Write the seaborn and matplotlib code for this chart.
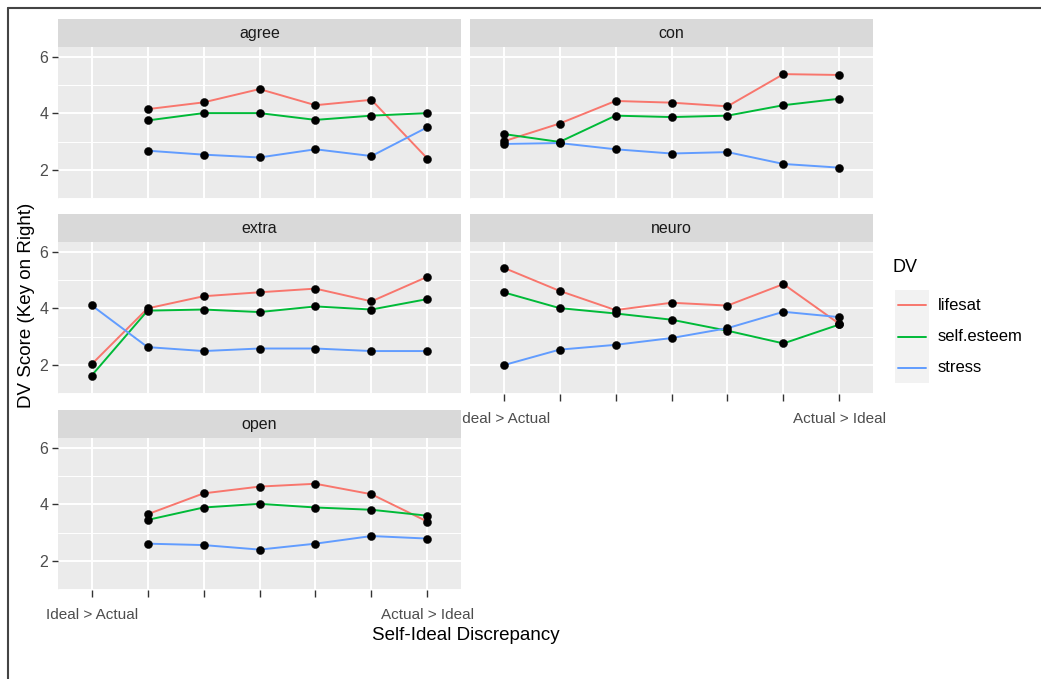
import numpy as np
import pandas as pd
import matplotlib.pyplot as plt
import seaborn as sns
from matplotlib.patches import Rectangle
from matplotlib.lines import Line2D

# ---- data ----
traits = ['agree', 'con', 'extra', 'neuro', 'open']
dvs = ['lifesat', 'self.esteem', 'stress']
positions = [1, 2, 3, 4, 5, 6, 7]
x_labels = ['Ideal > Actual', '', '', '', '', '', 'Actual > Ideal']
y_ticks = [2, 4, 6]

agree_lifesat = [np.nan, 4.15, 4.39, 4.86, 4.29, 4.48, 2.40]
agree_esteem = [np.nan, 3.75, 4.01, 4.01, 3.77, 3.92, 4.01]
agree_stress = [np.nan, 2.68, 2.54, 2.44, 2.73, 2.49, 3.51]

con_lifesat = [3.01, 3.64, 4.44, 4.38, 4.25, 5.39, 5.36]
con_esteem = [3.27, 2.99, 3.92, 3.87, 3.92, 4.29, 4.52]
con_stress = [2.92, 2.95, 2.73, 2.58, 2.63, 2.21, 2.08]

extra_lifesat = [2.02, 4.00, 4.43, 4.57, 4.70, 4.25, 5.12]
extra_esteem = [1.62, 3.92, 3.96, 3.87, 4.07, 3.96, 4.33]
extra_stress = [4.11, 2.63, 2.49, 2.58, 2.58, 2.49, 2.49]

neuro_lifesat = [5.44, 4.62, 3.94, 4.20, 4.10, 4.86, 3.45]
neuro_esteem = [4.57, 4.01, 3.82, 3.60, 3.21, 2.76, 3.43]
neuro_stress = [1.99, 2.54, 2.71, 2.95, 3.30, 3.88, 3.69]

open_lifesat = [np.nan, 3.65, 4.39, 4.63, 4.73, 4.36, 3.39]
open_esteem = [np.nan, 3.45, 3.89, 4.02, 3.89, 3.81, 3.60]
open_stress = [np.nan, 2.61, 2.56, 2.40, 2.61, 2.88, 2.79]

series = {
    'agree': [agree_lifesat, agree_esteem, agree_stress],
    'con': [con_lifesat, con_esteem, con_stress],
    'extra': [extra_lifesat, extra_esteem, extra_stress],
    'neuro': [neuro_lifesat, neuro_esteem, neuro_stress],
    'open': [open_lifesat, open_esteem, open_stress],
}

rows = []
for t in traits:
    for dv, vals in zip(dvs, series[t]):
        for p, v in zip(positions, vals):
            rows.append((t, dv, p, v))
df = pd.DataFrame(rows, columns=['trait', 'DV', 'pos', 'score']).dropna()

palette = {'lifesat': '#F8766D', 'self.esteem': '#00BA38', 'stress': '#619CFF'}

# ---- figure ----
sns.set_style('white')
plt.rcParams['font.family'] = ['Liberation Sans', 'DejaVu Sans']

W, H = 1041, 679
fig = plt.figure(figsize=(W / 100, H / 100), dpi=100)

panel_h = 152
strip_h = 28
row_tops = [47, 242, 438]
col_lefts = [58, 470]
panel_w = 403

axis_col = '#4D4D4D'


def add_panel(left, top):
    return fig.add_axes([left / W, 1 - (top + panel_h) / H, panel_w / W, panel_h / H])


for i, t in enumerate(traits):
    r, c = divmod(i, 2)
    ax = add_panel(col_lefts[c], row_tops[r])
    ax.set_facecolor('#EBEBEB')
    for s in ax.spines.values():
        s.set_visible(False)

    # grid (ggplot style)
    for yv in [1, 3, 5]:
        ax.axhline(yv, color='white', lw=0.7, zorder=0)
    for yv in y_ticks:
        ax.axhline(yv, color='white', lw=1.4, zorder=0)
    for xv in positions:
        ax.axvline(xv, color='white', lw=1.4, zorder=0)

    sub = df[df['trait'] == t]
    sns.lineplot(data=sub, x='pos', y='score', hue='DV', hue_order=dvs,
                 palette=palette, lw=1.4, legend=False, ax=ax, zorder=2)
    sns.scatterplot(data=sub, x='pos', y='score', color='black', s=34,
                    edgecolor='black', linewidth=0.3, legend=False, ax=ax, zorder=3)

    ax.set_xlim(0.4, 7.6)
    ax.set_ylim(0.97, 6.35)
    ax.set_xlabel('')
    ax.set_ylabel('')

    # strip
    ax.add_patch(Rectangle((0, 1), 1, strip_h / panel_h, transform=ax.transAxes,
                           facecolor='#D9D9D9', edgecolor='none', clip_on=False))
    ax.text(0.5, 1 + strip_h / panel_h / 2, t, transform=ax.transAxes,
            ha='center', va='center', fontsize=11.5, color='#1A1A1A')

    # y axis only on left column
    ax.set_yticks(y_ticks)
    if c == 0:
        ax.tick_params(axis='y', length=4, width=1, color='#333333',
                       labelcolor=axis_col, labelsize=11.5, pad=3, left=True)
    else:
        ax.tick_params(axis='y', left=False, labelleft=False)

    # x axis only where no panel below
    ax.set_xticks(positions)
    if t in ('neuro', 'open'):
        ax.set_xticklabels(x_labels)
        ax.tick_params(axis='x', length=5, width=1, color='#333333',
                       labelcolor=axis_col, labelsize=11, pad=8, bottom=True)
    else:
        ax.tick_params(axis='x', bottom=False, labelbottom=False)

# axis titles
fig.text(465.5 / W, 1 - 635 / H, 'Self-Ideal Discrepancy', ha='center', va='center',
         fontsize=13.5, color='black')
fig.text(27 / W, 1 - 305 / H, 'DV Score (Key on Right)', ha='center', va='center',
         rotation=90, fontsize=13.5, color='black')

# legend (ggplot style keys)
fig.text(893 / W, 1 - 268 / H, 'DV', ha='left', va='center', fontsize=13, color='black')
key_top = 290
key_h = 31
for j, dv in enumerate(dvs):
    ky = key_top + j * key_h
    fig.patches.append(Rectangle((895 / W, 1 - (ky + key_h) / H), 34 / W, key_h / H,
                                 transform=fig.transFigure, facecolor='#F2F2F2',
                                 edgecolor='none'))
    cy = 1 - (ky + key_h / 2) / H
    fig.lines.append(Line2D([898 / W, 926 / W], [cy, cy], transform=fig.transFigure,
                            color=palette[dv], lw=1.4))
    fig.text(938 / W, cy, dv, ha='left', va='center', fontsize=12, color='black')

# screenshot frame (top and left edges)
fig.lines.append(Line2D([8 / W, 1], [1 - 8 / H, 1 - 8 / H], transform=fig.transFigure,
                        color='#444444', lw=1.5))
fig.lines.append(Line2D([8 / W, 8 / W], [0, 1 - 8 / H], transform=fig.transFigure,
                        color='#444444', lw=1.5))

fig.savefig('out.png', dpi=100)
